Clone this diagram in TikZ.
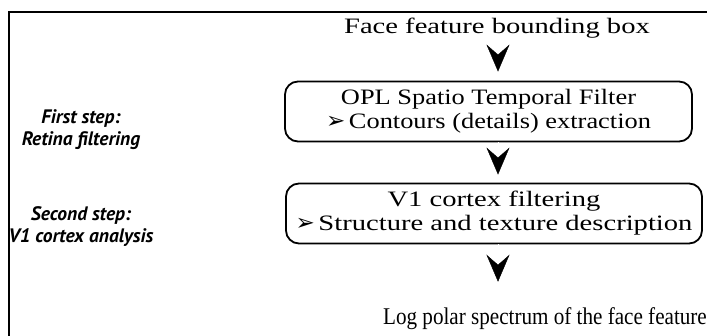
\documentclass[tikz,border=0pt]{standalone}
\usepackage{fontspec}
\setmainfont{Liberation Serif}
\newfontfamily\wideserif[FakeStretch=1.3]{Liberation Serif}
\newfontfamily\midserif[FakeStretch=1.2]{Liberation Serif}
\newfontfamily\narrowserif[FakeStretch=0.88]{Liberation Serif}
\newfontfamily\stepfont{PT Sans}
\newfontfamily\markfont{DejaVu Sans}
\usetikzlibrary{arrows.meta}

\newcommand{\itemarrow}{{\markfont\fontsize{23}{23}\selectfont ➢}\,}

\begin{document}
\begin{tikzpicture}[x=1pt, y=-1pt,
    flowtext/.style={inner sep=0pt},
    stagebox/.style={draw, line width=1.8pt, rounded corners=13pt, align=center, inner sep=0pt, minimum height=60pt},
    steplabel/.style={align=center, inner sep=0pt, font=\stepfont\bfseries\itshape\fontsize{19.5}{22}\selectfont},
    flow/.style={draw=white, -{Stealth[length=27pt, width=23pt, inset=10pt, black]}}]
  \useasboundingbox (0,0) rectangle (707,336);
  \draw[line width=2.8pt] (9,336) -- (9,12) -- (707,12); %%% frame, cut at right and bottom

  \coordinate (axis) at (498,0); %%% the arrows line up here

  \node[flowtext, font=\wideserif\fontsize{22}{25}\selectfont] (input) at (497,28) {Face feature bounding box};
  \node[stagebox, minimum width=407pt, font=\midserif\fontsize{22}{24}\selectfont] (retina) at (488.5,111.5)
    {OPL Spatio Temporal Filter\\ \itemarrow Contours (details) extraction};
  \node[stagebox, minimum width=416pt, font=\wideserif\fontsize{22}{24}\selectfont] (cortex) at (494,213.5)
    {V1 cortex filtering\\ \itemarrow Structure and texture description};
  \node[flowtext, font=\narrowserif\fontsize{24}{26}\selectfont] (output) at (545,319) {Log polar spectrum of the face feature};

  \node[steplabel] (first) at (81,130) {First step:\\ Retina filtering};
  \node[steplabel] (second) at (81,227) {Second step:\\ V1 cortex analysis};

  \draw[flow, shorten >=9pt] (input.south -| axis) -- (retina.north -| axis);
  \draw[flow, shorten >=8pt] (retina.south -| axis) -- (cortex.north -| axis);
  \draw[flow, shorten >=26pt] (cortex.south -| axis) -- (output.north -| axis);
\end{tikzpicture}
\end{document}
